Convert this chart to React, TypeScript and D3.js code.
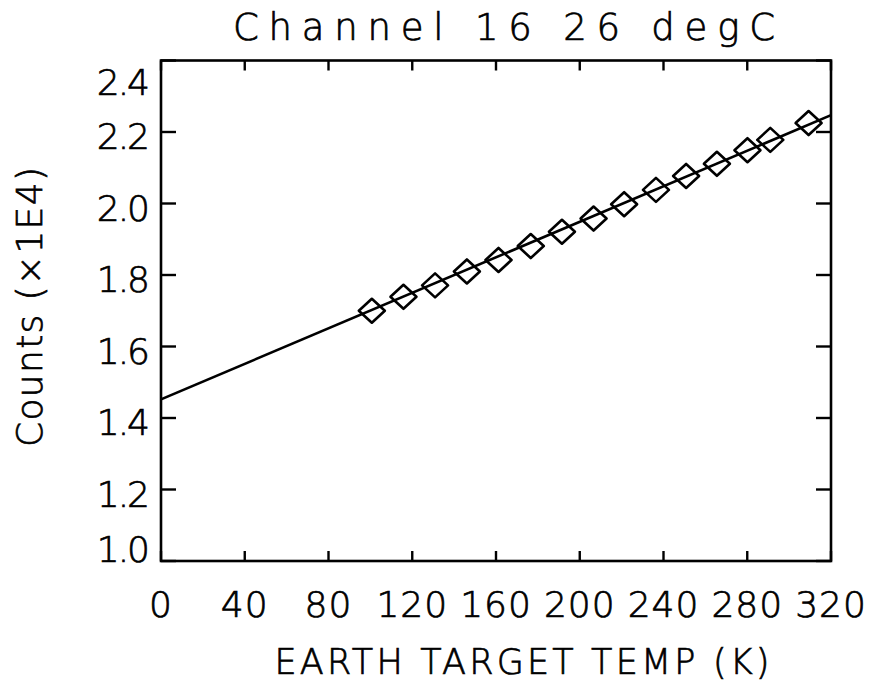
import React from 'react';
import * as d3 from 'd3';

// measured points (earth target temp K, counts x1E4)
const tempK = [100.7, 115.8, 130.9, 146.1, 161.2, 176.6, 191.5, 206.6, 221.2, 236.4, 250.8, 265.5, 280.1, 291.0, 309.3];
const counts = [1.700, 1.739, 1.771, 1.810, 1.842, 1.881, 1.921, 1.958, 1.998, 2.038, 2.077, 2.111, 2.149, 2.178, 2.225];

// linear fit end points
const fitX = [0, 320];
const fitY = [1.452, 2.247];

const xTicks = [0, 40, 80, 120, 160, 200, 240, 280, 320];
const yTicks = [1.0, 1.2, 1.4, 1.6, 1.8, 2.0, 2.2, 2.4];

const W = 870;
const H = 683;
const left = 161, right = 831, top = 60.5, bottom = 561;
const font = '"DejaVu Sans", "Liberation Sans", sans-serif';
const weight = 200;
// thin stroke on the extra-light glyphs, close to the plotter lettering
const txt = { fontFamily: font, fontWeight: weight, fill: '#000', stroke: '#000', strokeWidth: 0.7 };

const App = () => {
    const x = d3.scaleLinear().domain([0, 320]).range([left, right]);
    const y = d3.scaleLinear().domain([1.0, 2.4]).range([bottom, top]);

    const line = d3.line<number>()
        .x((_, i) => x(fitX[i]))
        .y(d => y(d));

    // IDL-ish diamond
    const diamond = 'M-13,0L0,-12L13,0L0,12Z';

    const labelOffset = (v: number) => (v === 2.4 ? 34 : v === 1.0 ? 1 : 17);

    return (
        <svg width={W} height={H} style={{ position: 'absolute', left: 0, top: 0, background: '#fff' }}>
            <rect width={W} height={H} fill="#fff" />
            <text x={233} y={40} {...txt} fontSize={37} textLength={542}
                  lengthAdjust="spacing">Channel 16 26 degC</text>

            <defs>
                <clipPath id="plot">
                    <rect x={left} y={top} width={right - left} height={bottom - top} />
                </clipPath>
            </defs>

            <path d={line(fitY) || ''} fill="none" stroke="#000" strokeWidth={2.6} clipPath="url(#plot)" />

            {tempK.map((t, i) => (
                <path key={i} d={diamond} transform={`translate(${x(t)},${y(counts[i])})`}
                      fill="none" stroke="#000" strokeWidth={2.6} strokeLinejoin="round" />
            ))}

            <rect x={left} y={top} width={right - left} height={bottom - top}
                  fill="none" stroke="#000" strokeWidth={2.6} />

            {yTicks.map(v => (
                <g key={v}>
                    <line x1={left} x2={left + 15} y1={y(v)} y2={y(v)} stroke="#000" strokeWidth={2.4} />
                    <line x1={right - 15} x2={right} y1={y(v)} y2={y(v)} stroke="#000" strokeWidth={2.4} />
                    <text x={148} y={y(v) + labelOffset(v)} textAnchor="end" {...txt}
                          fontSize={36} letterSpacing={-2}>{v.toFixed(1)}</text>
                </g>
            ))}

            {xTicks.map(v => (
                <g key={v}>
                    <line x1={x(v)} x2={x(v)} y1={bottom} y2={bottom - 10} stroke="#000" strokeWidth={2.4} />
                    <line x1={x(v)} x2={x(v)} y1={top} y2={top + 10} stroke="#000" strokeWidth={2.4} />
                    <text x={x(v)} y={617} textAnchor="middle" {...txt}
                          fontSize={36} letterSpacing={1}>{v}</text>
                </g>
            ))}

            <text x={522} y={674} textAnchor="middle" {...txt} fontSize={35}
                  textLength={495} lengthAdjust="spacing">EARTH TARGET TEMP (K)</text>

            <text transform="translate(42,307) rotate(-90)" textAnchor="middle" {...txt}
                  fontSize={36} textLength={280} lengthAdjust="spacing">Counts (×1E4)</text>
        </svg>
    );
};

export default App;
